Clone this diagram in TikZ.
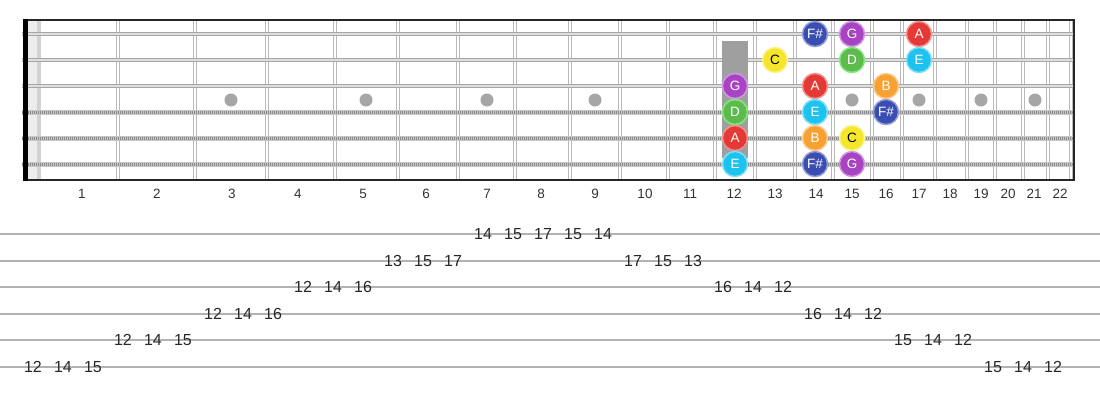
\documentclass[tikz,border=0pt]{standalone}
\usepackage{xcolor}
\usepackage{fontspec}
\setmainfont{Liberation Sans}
\usepackage{tikz}
\usetikzlibrary{shapes, positioning}
\definecolor{colFs}{HTML}{3A4DB3}
\definecolor{colG}{HTML}{A843C4}
\definecolor{colA}{HTML}{E53935}
\definecolor{colE}{HTML}{1CC3EE}
\definecolor{colD}{HTML}{5DBB4E}
\definecolor{colC}{HTML}{F5E62A}
\definecolor{colB}{HTML}{F8A133}
\tikzstyle{note} = [circle, minimum size=25pt, inner sep=0pt, line width=1.5pt,
    font=\fontsize{13.5}{13.5}\selectfont, text=white]
\tikzstyle{noteFs} = [note, fill=colFs, draw=colFs!55!white]
\tikzstyle{noteG} = [note, fill=colG, draw=colG!55!white]
\tikzstyle{noteA} = [note, fill=colA, draw=colA!55!white]
\tikzstyle{noteE} = [note, fill=colE, draw=colE!55!white]
\tikzstyle{noteD} = [note, fill=colD, draw=colD!50!green!60!white]
\tikzstyle{noteC} = [note, fill=colC, draw=colC!50!white, text=black]
\tikzstyle{noteB} = [note, fill=colB, draw=colB!55!white]
\tikzstyle{fret} = [draw=gray!55, double=white, line width=1pt, double distance=1.6pt]
\tikzstyle{plainstring} = [draw=gray!70, double=gray!25, line width=1.2pt, double distance=1.2pt]
\tikzstyle{marker} = [circle, fill=gray!70, minimum size=13pt, inner sep=0pt]
\tikzstyle{fretnum} = [font=\fontsize{13.5}{13.5}\selectfont, text=black!80, inner sep=0pt]
\tikzstyle{tabnum} = [font=\fontsize{16}{16}\selectfont, text=black!85, inner sep=0pt]
\tikzstyle{tabline} = [draw=gray!60, line width=2pt]

\begin{document}
\begin{tikzpicture}[x=1pt, y=-1pt]
      \useasboundingbox (0,0) rectangle (1100,400);
      % Nut band
      \fill[gray!14] (28,20) rectangle (37,180);
      \fill[gray!35] (37,20) rectangle (41,180);
      % Frets
      \foreach \x in {118,195,267,335,398,458,515,570,620,668,715,755,795,833,872,902,935,967,995,1023,1048,1071}
        \draw[fret] (\x,20) -- (\x,180);
      % Position markers
      \foreach \x in {231,366,487,595,852,919,981,1035}
        \node[marker] (dot-\x) at (\x,100) {};
      % Strings
      \foreach \s in {1,2,3}
        \draw[plainstring] (22,{34+26*(\s-1)}) -- (1073,{34+26*(\s-1)});
      \foreach \s in {4,5,6} {
        \draw[gray!45, line width=5pt] (22,{34+26*(\s-1)}) -- (1073,{34+26*(\s-1)});
        \draw[gray!90, line width=3pt, dash pattern=on 1pt off 1pt] (22,{34+26*(\s-1)}) -- (1073,{34+26*(\s-1)});
      }
      % 12th fret marker
      \fill[gray!75] (722,41) rectangle (748,158);
      % Borders and nut
      \draw[black!85, line width=2pt] (23,20) -- (1075,20);
      \draw[black!85, line width=2pt] (23,180) -- (1075,180);
      \draw[black!85, line width=2.5pt] (1074,19) -- (1074,181);
      \fill[black] (23,19) rectangle (28,181);
      % Notes
      \foreach \s/\x/\c/\n in {1/815/Fs/F\#, 1/852/G/G, 1/919/A/A,
          2/775/C/C, 2/852/D/D, 2/919/E/E,
          3/735/G/G, 3/815/A/A, 3/886/B/B,
          4/735/D/D, 4/815/E/E, 4/886/Fs/F\#,
          5/735/A/A, 5/815/B/B, 5/852/C/C,
          6/735/E/E, 6/815/Fs/F\#, 6/852/G/G}
        \node[note\c] (n\s-\x) at (\x,{34+26*(\s-1)}) {\n};
      % Fret numbers
      \foreach \n/\x in {1/82,2/157,3/232,4/298,5/363,6/426,7/487,8/541,9/595,10/645,11/690,
          12/734,13/775,14/816,15/852,16/886,17/919,18/950,19/981,20/1008,21/1034,22/1060}
        \node[fretnum] (fn-\n) at (\x,194) {\n};
      % Tab
      \foreach \s in {1,...,6} {
        \coordinate (tab\s) at (0,{234+26.6*(\s-1)});
        \draw[tabline] (tab\s) -- ++(1100,0);
      }
      \foreach \s/\f [count=\k from 0] in {6/12,6/14,6/15,5/12,5/14,5/15,4/12,4/14,4/16,
          3/12,3/14,3/16,2/13,2/15,2/17,1/14,1/15,1/17,1/15,1/14,2/17,2/15,2/13,
          3/16,3/14,3/12,4/16,4/14,4/12,5/15,5/14,5/12,6/15,6/14,6/12}
        \node[tabnum] (t-\k) at ({33+30*\k},{234+26.6*(\s-1)}) {\f};
\end{tikzpicture}
\end{document}
